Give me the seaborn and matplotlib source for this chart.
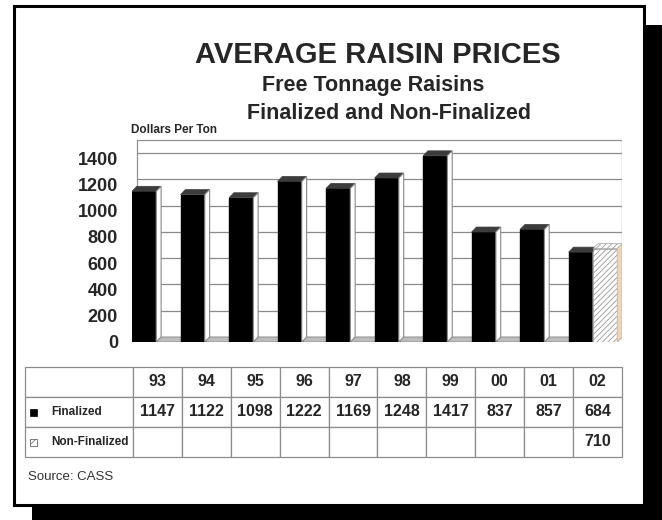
import numpy as np
import pandas as pd
import matplotlib
matplotlib.use('Agg')
import matplotlib.pyplot as plt
import seaborn as sns
from matplotlib.patches import Rectangle, Polygon

# data
years = ['93', '94', '95', '96', '97', '98', '99', '00', '01', '02']
finalized = [1147, 1122, 1098, 1222, 1169, 1248, 1417, 837, 857, 684]
non_finalized = [np.nan] * 9 + [710]
series = ['Finalized', 'Non-Finalized']
yticks = [0, 200, 400, 600, 800, 1000, 1200, 1400]

sns.set_style('white')
plt.rcParams['font.family'] = ['Liberation Sans', 'DejaVu Sans']
plt.rcParams['hatch.linewidth'] = 0.6

W, H = 662, 520
fig = plt.figure(figsize=(W / 100, H / 100), dpi=100)


def box(x0, y0, x1, y1):
    # pixel box (top-left origin) -> figure rect
    return [x0 / W, 1 - y1 / H, (x1 - x0) / W, (y1 - y0) / H]


# frame with drop shadow
fig.add_artist(Rectangle((32 / W, 0), 1 - 32 / W, 1 - 25 / H, transform=fig.transFigure,
                         facecolor='black', edgecolor='none', zorder=-2))
fig.add_artist(Rectangle((14 / W, 1 - 505 / H), 630 / W, 499 / H, transform=fig.transFigure,
                         facecolor='white', edgecolor='black', lw=2.2, zorder=-1))

# bar chart
ax = fig.add_axes(box(132, 139, 622, 342))
ax.set_facecolor('none')

df = pd.DataFrame({'year': years * 2,
                   'series': [series[0]] * len(years) + [series[1]] * len(years),
                   'price': finalized + non_finalized}).dropna()

sns.barplot(data=df, x='year', y='price', hue='series', order=years, hue_order=series,
            palette=['black', 'white'], saturation=1, width=1.0, errorbar=None,
            legend=False, ax=ax, zorder=3)

DX, DY = 0.1, 38  # fake 3d depth
top = 1545
ax.set_xlim(-0.5, 9.5 + DX)
ax.set_ylim(0, top)

# back wall, grid and floor
ax.add_patch(Rectangle((-0.5 + DX, DY), 10, top - DY - 4, fill=False,
                       edgecolor='#909090', lw=0.9, zorder=1))
for v in yticks[1:]:
    ax.plot([-0.5 + DX, 9.5 + DX], [v + DY, v + DY], color='#8a8a8a', lw=0.9, zorder=1)
ax.add_patch(Polygon([(-0.5, 0), (9.5, 0), (9.5 + DX, DY), (-0.5 + DX, DY)],
                     facecolor='#bdbdbd', edgecolor='#8a8a8a', lw=0.6, zorder=2))

# 3d faces on every bar
for i, cont in enumerate(ax.containers):
    for bar in cont:
        x, w, h = bar.get_x(), bar.get_width(), bar.get_height()
        if np.isnan(h) or h == 0:
            continue
        topf = [(x, h), (x + w, h), (x + w + DX, h + DY), (x + DX, h + DY)]
        side = [(x + w, 0), (x + w + DX, DY), (x + w + DX, h + DY), (x + w, h)]
        if i == 0:
            bar.set_edgecolor('black')
            ax.add_patch(Polygon(topf, facecolor='#3c3c3c', edgecolor='#3c3c3c', lw=0.5, zorder=3))
            ax.add_patch(Polygon(side, facecolor='white', edgecolor='#8a8a8a', lw=0.8, zorder=3))
        else:
            bar.set_hatch('//////')
            bar.set_edgecolor('#9a9a9a')
            bar.set_linewidth(0.5)
            bar.set_zorder(4)
            ax.add_patch(Polygon(topf, facecolor='white', edgecolor='#9a9a9a', hatch='//////',
                                 lw=0.5, zorder=4))
            ax.add_patch(Polygon(side, facecolor='#ecd5bd', edgecolor='#c8b39c', lw=0.5, zorder=4))

ax.set_yticks(yticks)
ax.set_yticklabels([str(v) for v in yticks], fontsize=13, fontweight='bold')
ax.tick_params(axis='y', length=0, pad=10)
ax.set_xticks([])
ax.set_xlabel('')
ax.set_ylabel('')
for s in ax.spines.values():
    s.set_visible(False)

# data table under the chart
tax = fig.add_axes(box(25, 367, 622, 457))
tax.axis('off')
cell_text = [[''] + years,
             [''] + [str(v) for v in finalized],
             [''] + ['' if np.isnan(v) else str(int(v)) for v in non_finalized]]
tbl = tax.table(cellText=cell_text, colWidths=[108 / 597] + [48.9 / 597] * 10,
                bbox=[0, 0, 1, 1], cellLoc='center')
tbl.auto_set_font_size(False)
for (r, c), cell in tbl.get_celld().items():
    cell.set_edgecolor('#8c8c8c')
    cell.set_linewidth(0.9)
    cell.get_text().set_fontsize(11.5)
    cell.get_text().set_fontweight('bold')

# legend keys in the row labels
tw, th = 597, 90
tax.add_patch(Rectangle((5 / tw, (45 - 3.5) / th), 7 / tw, 7 / th, facecolor='black',
                        edgecolor='black', lw=0.5, transform=tax.transAxes, clip_on=False))
tax.add_patch(Rectangle((5 / tw, (15 - 3.5) / th), 7 / tw, 7 / th, facecolor='white',
                        edgecolor='#7a7a7a', hatch='////', lw=0.7, transform=tax.transAxes,
                        clip_on=False))
tax.text(26 / tw, 45 / th, series[0], transform=tax.transAxes, ha='left', va='center',
         fontsize=8.5, fontweight='bold')
tax.text(26 / tw, 15 / th, series[1], transform=tax.transAxes, ha='left', va='center',
         fontsize=8.5, fontweight='bold')

# titles and notes
fig.text(378 / W, 1 - 63 / H, 'AVERAGE RAISIN PRICES', ha='center', va='baseline',
         fontsize=21, fontweight='bold')
fig.text(373 / W, 1 - 91 / H, 'Free Tonnage Raisins', ha='center', va='baseline',
         fontsize=15.5, fontweight='bold')
fig.text(389 / W, 1 - 119 / H, 'Finalized and Non-Finalized', ha='center', va='baseline',
         fontsize=15.5, fontweight='bold')
fig.text(131 / W, 1 - 130 / H, 'Dollars Per Ton', ha='left', va='center',
         fontsize=8.5, fontweight='bold')
fig.text(28 / W, 1 - 477 / H, 'Source: CASS', ha='left', va='center',
         fontsize=9.5, color='#333333')

fig.savefig('out.png', dpi=100)
